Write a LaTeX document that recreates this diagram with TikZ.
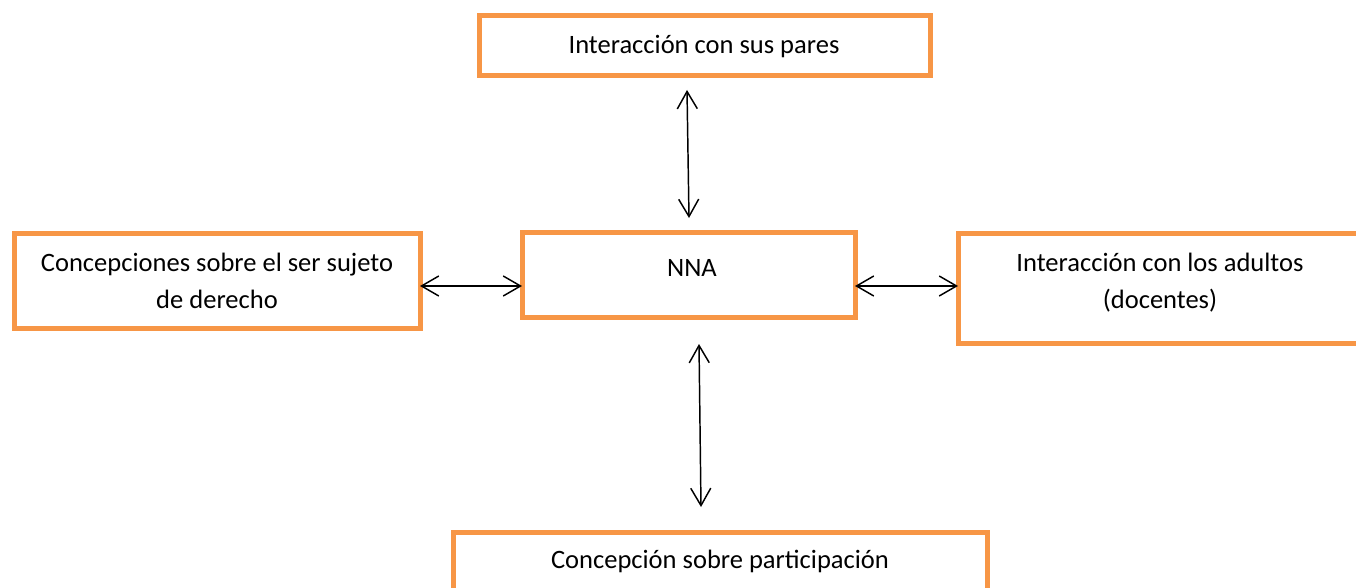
\documentclass[tikz,border=0pt]{standalone}
\usepackage{fontspec}
\setmainfont{Carlito}
\usetikzlibrary{arrows.meta}
\definecolor{boxorange}{HTML}{F79646}
\begin{document}
\begin{tikzpicture}[x=0.75pt,y=-0.75pt,
  box/.style={draw=boxorange, line width=3.75pt, inner sep=0pt, outer sep=0pt, anchor=north west},
  lbl/.style={inner sep=0pt, align=center, font=\fontsize{19.9pt}{27.75pt}\selectfont},
  conn/.style={line width=1.1pt, {Straight Barb[length=13pt,width=15pt]}-{Straight Barb[length=13pt,width=15pt]}}]
\useasboundingbox (0,0) rectangle (1356,588);
\clip (0,0) rectangle (1356,588);
\fill[white] (0,0) rectangle (1356,588);
% boxes
\node[box, minimum width={451*0.75pt}, minimum height={60*0.75pt}] (top) at (479,16) {};
\node[box, minimum width={406*0.75pt}, minimum height={95*0.75pt}] (left) at (14,233) {};
\node[box, minimum width={333*0.75pt}, minimum height={85*0.75pt}] (nna) at (522,232) {};
\node[box, minimum width={404*0.75pt}, minimum height={110*0.75pt}] (right) at (958,233) {};
\node[box, minimum width={534*0.75pt}, minimum height={60*0.75pt}] (bottom) at (453,532) {};
% texts
\node[lbl] (ttop) at (704,47) {Interacción con sus pares};
\node[lbl] (tleft) at (217,281) {Concepciones sobre el ser sujeto\\de derecho};
\node[lbl] (tnna) at (692,268) {NNA};
\node[lbl] (tright) at (1160,282.5) {Interacción con los adultos\\(docentes)};
\node[lbl] (tbottom) at (720,561) {Concepción sobre participación};
% connectors
\coordinate (a1) at (687,90);
\coordinate (a2) at (689,218);
\coordinate (b1) at (699,344);
\coordinate (b2) at (701,507);
\draw[conn] (a1) -- (a2);
\draw[conn] (b1) -- (b2);
\draw[conn] (left.east |- 0,286) -- (nna.west |- 0,286);
\draw[conn] (nna.east |- 0,286) -- (right.west |- 0,286);
\end{tikzpicture}
\end{document}
